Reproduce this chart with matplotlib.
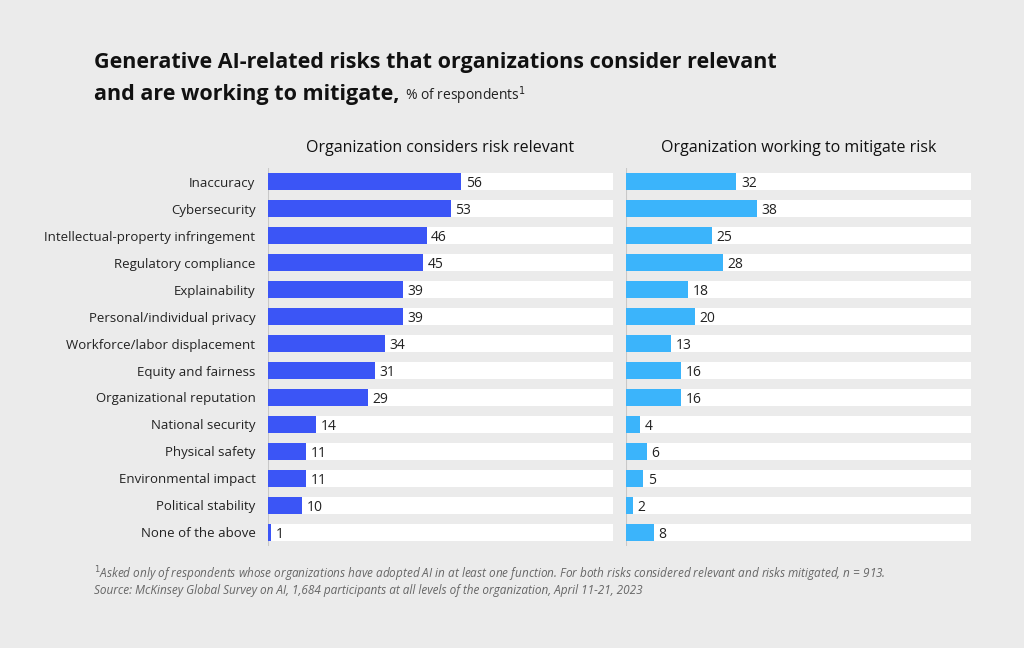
import matplotlib.pyplot as plt
import numpy as np

plt.rcParams["font.family"] = ["Open Sans", "DejaVu Sans"]

risks = [
    "Inaccuracy", "Cybersecurity", "Intellectual-property infringement",
    "Regulatory compliance", "Explainability", "Personal/individual privacy",
    "Workforce/labor displacement", "Equity and fairness",
    "Organizational reputation", "National security", "Physical safety",
    "Environmental impact", "Political stability", "None of the above",
]
relevant = [56, 53, 46, 45, 39, 39, 34, 31, 29, 14, 11, 11, 10, 1]
mitigating = [32, 38, 25, 28, 18, 20, 13, 16, 16, 4, 6, 5, 2, 8]

BG = "#ebebeb"
fig = plt.figure(figsize=(10.24, 6.48), dpi=100, facecolor=BG)

panels = [
    (0.2617, relevant, "#3b55f6", "Organization considers risk relevant"),
    (0.6113, mitigating, "#3bb4fb", "Organization working to mitigate risk"),
]
y = np.arange(len(risks))
for x0, vals, color, title in panels:
    ax = fig.add_axes([x0, 0.158, 0.337, 0.582])
    ax.set_facecolor(BG)
    ax.barh(y, [100] * len(y), height=0.63, color="white", zorder=1)
    ax.barh(y, vals, height=0.63, color=color, zorder=2)
    for yi, v in zip(y, vals):
        ax.text(v + 1.3, yi, str(v), va="center_baseline", ha="left", fontsize=10,
                color="#222222", zorder=3)
    ax.set_xlim(0, 100)
    ax.set_ylim(len(y) - 0.5, -0.5)
    ax.axvline(0, color="#c8c8c8", lw=0.8, zorder=0)
    for s in ax.spines.values():
        s.set_visible(False)
    ax.set_xticks([])
    ax.tick_params(axis="y", length=0, pad=9, labelsize=9.5, labelcolor="#222222")
    if x0 < 0.5:
        ax.set_yticks(y)
        ax.set_yticklabels(risks)
    else:
        ax.set_yticks([])
    ax.set_title(title, fontsize=11.5, color="#111111", pad=12)

fig.text(0.092, 0.895, "Generative AI-related risks that organizations consider relevant",
         fontsize=15.5, fontweight="bold", color="#111111", va="baseline")
t = fig.text(0.092, 0.846, "and are working to mitigate,", fontsize=15.5, fontweight="bold",
             color="#111111", va="baseline")
fig.canvas.draw()
fig.text(0, 0, "% of respondents$^1$", fontsize=10, color="#222222", va="baseline",
         transform=t.get_transform() if False else fig.transFigure)
bb = t.get_window_extent(renderer=fig.canvas.get_renderer())
fig.texts[-1].set_position((bb.x1 / fig.bbox.width + 0.005, 0.846))

fig.text(0.092, 0.107,
         "$^1$Asked only of respondents whose organizations have adopted AI in at least one function. "
         "For both risks considered relevant and risks mitigated, n = 913.",
         fontsize=8.5, style="italic", color="#666666")
fig.text(0.092, 0.083,
         "Source: McKinsey Global Survey on AI, 1,684 participants at all levels of the organization, April 11-21, 2023",
         fontsize=8.5, style="italic", color="#666666")

fig.savefig("out.png", dpi=100, facecolor=BG)
